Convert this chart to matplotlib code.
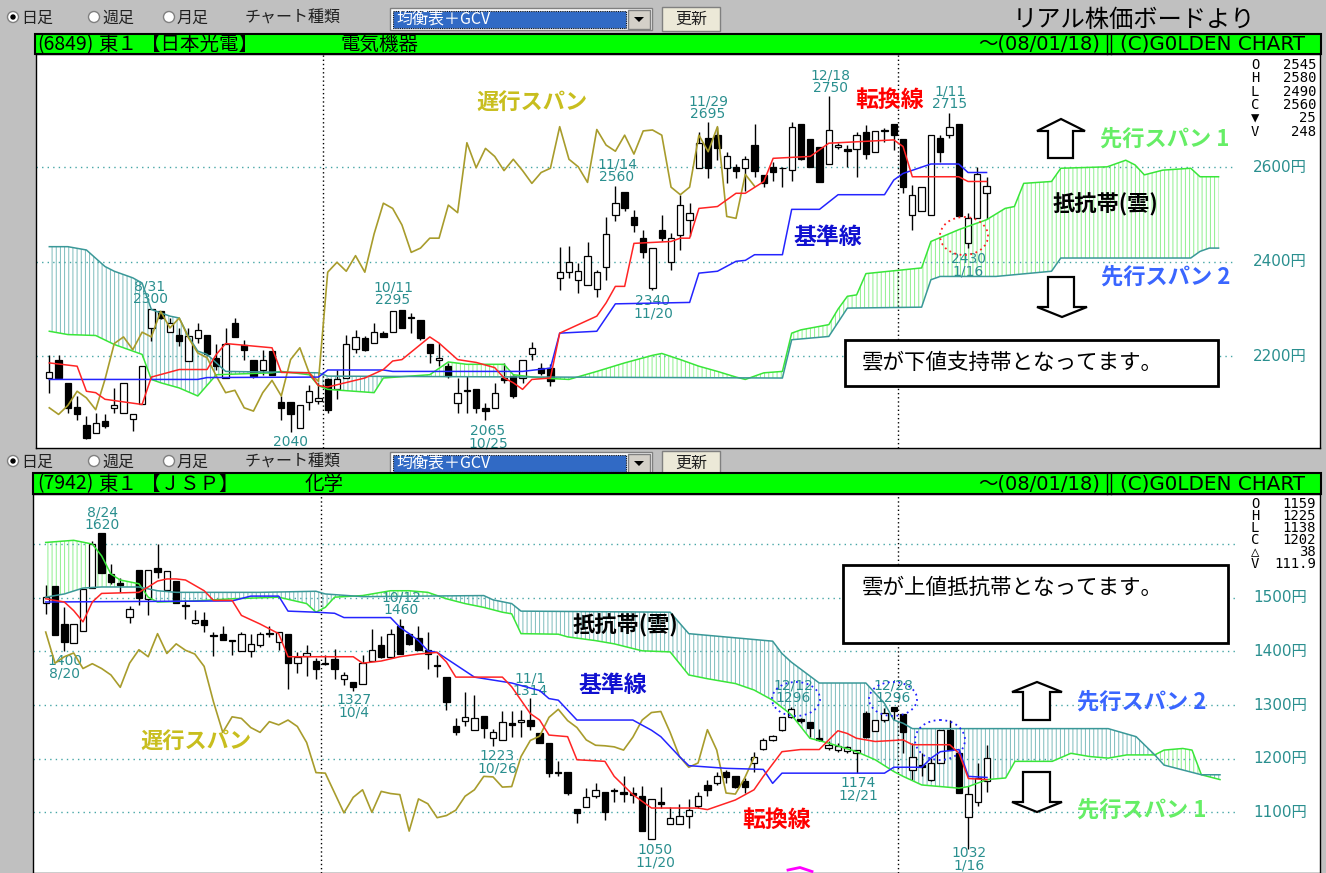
import matplotlib
matplotlib.use("Agg")
import matplotlib.pyplot as plt
import numpy as np
from matplotlib.patches import Rectangle, Polygon, Ellipse
from matplotlib.transforms import Affine2D, blended_transform_factory

plt.rcParams['font.family'] = ['Noto Sans CJK JP', 'DejaVu Sans']
plt.rcParams['hatch.linewidth'] = 0.7

# ---------------- top panel: (6849) 日本光電 ----------------
top_open = [2154, 2192, 2144, 2092, 2054, 2038, 2063, 2091, 2079, 2068, 2100, 2260, 2295, 2251, 2246, 2190, 2239, 2246, 2197, 2154,
            2270, 2223, 2192, 2172, 2212, 2103, 2103, 2049, 2103, 2105, 2151, 2130, 2154, 2216, 2239, 2228, 2249, 2251, 2297, 2284,
            2276, 2225, 2192, 2179, 2102, 2126, 2130, 2091, 2091, 2154, 2158, 2154, 2204, 2175, 2175, 2366, 2378, 2362, 2350, 2342,
            2389, 2499, 2547, 2494, 2450, 2344, 2468, 2399, 2457, 2489, 2598, 2663, 2668, 2598, 2601, 2598, 2647, 2584, 2600, 2599,
            2594, 2692, 2659, 2642, 2607, 2644, 2638, 2638, 2675, 2633, 2677, 2692, 2659, 2499, 2508, 2499, 2663, 2668, 2692, 2440,
            2492, 2545]
top_high = [2202, 2202, 2144, 2116, 2073, 2080, 2077, 2133, 2144, 2078, 2180, 2300, 2295, 2281, 2260, 2260, 2271, 2246, 2225, 2260,
            2281, 2235, 2192, 2214, 2212, 2116, 2103, 2096, 2140, 2144, 2154, 2172, 2246, 2256, 2242, 2271, 2253, 2295, 2297, 2292,
            2276, 2225, 2228, 2186, 2154, 2158, 2130, 2102, 2144, 2186, 2161, 2193, 2230, 2186, 2183, 2431, 2434, 2397, 2441, 2383,
            2494, 2560, 2547, 2510, 2468, 2429, 2499, 2462, 2541, 2524, 2675, 2695, 2686, 2633, 2608, 2624, 2692, 2584, 2612, 2600,
            2696, 2692, 2659, 2642, 2750, 2651, 2647, 2675, 2689, 2677, 2684, 2692, 2659, 2563, 2558, 2668, 2668, 2715, 2692, 2503,
            2601, 2580]
top_low = [2123, 2151, 2080, 2066, 2025, 2038, 2049, 2080, 2079, 2042, 2100, 2232, 2278, 2251, 2221, 2190, 2228, 2200, 2172, 2154,
           2241, 2193, 2154, 2161, 2161, 2066, 2040, 2049, 2087, 2098, 2080, 2109, 2154, 2207, 2211, 2228, 2241, 2251, 2260, 2249,
           2235, 2186, 2179, 2154, 2080, 2080, 2080, 2065, 2091, 2144, 2112, 2144, 2193, 2161, 2137, 2340, 2366, 2335, 2350, 2325,
           2361, 2487, 2508, 2464, 2408, 2340, 2445, 2383, 2425, 2454, 2598, 2577, 2615, 2566, 2577, 2549, 2579, 2559, 2570, 2559,
           2572, 2615, 2600, 2568, 2607, 2638, 2600, 2579, 2617, 2633, 2654, 2637, 2546, 2468, 2508, 2499, 2612, 2663, 2496, 2430,
           2492, 2490]
top_close = [2166, 2154, 2091, 2077, 2028, 2058, 2052, 2096, 2144, 2078, 2180, 2300, 2281, 2271, 2232, 2242, 2255, 2204, 2179, 2227,
             2241, 2213, 2158, 2192, 2161, 2091, 2077, 2096, 2126, 2112, 2087, 2151, 2227, 2241, 2214, 2251, 2241, 2295, 2260, 2281,
             2239, 2207, 2197, 2158, 2123, 2128, 2091, 2084, 2123, 2149, 2116, 2193, 2218, 2165, 2147, 2378, 2399, 2380, 2413, 2378,
             2459, 2524, 2513, 2478, 2420, 2429, 2450, 2450, 2520, 2504, 2652, 2599, 2640, 2623, 2593, 2617, 2593, 2566, 2589, 2598,
             2686, 2617, 2601, 2568, 2680, 2647, 2634, 2668, 2628, 2677, 2679, 2668, 2558, 2542, 2558, 2668, 2633, 2686, 2496, 2492,
             2585, 2560]

top_tenkan_x = [0, 3, 4, 5, 6, 10, 11, 14, 17, 18, 19, 24, 25, 28, 29, 30, 34, 36, 37, 38, 41, 42, 44, 46, 48, 49, 50, 51, 52, 54,
                55, 57, 59, 60, 61, 62, 63, 67, 68, 69, 70, 72, 74, 75, 77, 78, 82, 84, 91, 92, 93, 98, 99, 101]
top_tenkan_y = [2186, 2179, 2126, 2123, 2109, 2098, 2156, 2172, 2172, 2204, 2227, 2218, 2166, 2165, 2138, 2135, 2154, 2172, 2190, 2193,
                2241, 2228, 2193, 2187, 2176, 2154, 2144, 2130, 2151, 2154, 2249, 2267, 2285, 2313, 2348, 2348, 2439, 2443, 2450, 2450,
                2513, 2517, 2545, 2545, 2570, 2619, 2623, 2651, 2658, 2644, 2580, 2580, 2570, 2570]
top_kijun_x = [0, 16, 17, 29, 30, 36, 37, 51, 54, 55, 59, 61, 69, 70, 72, 74, 75, 76, 79, 80, 83, 85, 90, 91, 92, 95, 98, 99, 101]
top_kijun_y = [2151, 2151, 2155, 2156, 2171, 2171, 2168, 2168, 2175, 2249, 2253, 2311, 2314, 2376, 2380, 2401, 2403, 2415, 2415, 2511,
               2511, 2542, 2542, 2573, 2587, 2607, 2607, 2589, 2589]
top_span_a_x = [0, 2, 5, 7, 9, 10, 11, 12, 14, 16, 18, 24, 25, 28, 29, 30, 35, 36, 41, 43, 45, 49, 50, 53, 56, 59, 62, 65, 66, 68,
                70, 72, 74, 75, 77, 79, 80, 81, 84, 85, 86, 87, 88, 92, 94, 95, 98, 101, 103, 104, 105, 108, 109, 114, 116, 117, 118,
                120, 123, 124, 126]
top_span_a_y = [2253, 2246, 2244, 2225, 2211, 2204, 2151, 2144, 2133, 2116, 2161, 2165, 2168, 2161, 2138, 2130, 2123, 2154, 2161, 2188,
                2183, 2183, 2161, 2154, 2151, 2168, 2186, 2202, 2206, 2193, 2179, 2168, 2156, 2151, 2165, 2168, 2249, 2256, 2267, 2300,
                2327, 2330, 2375, 2383, 2387, 2443, 2468, 2489, 2513, 2517, 2566, 2570, 2598, 2601, 2615, 2605, 2584, 2594, 2598, 2580,
                2580]
top_span_b_x = [0, 2, 4, 6, 7, 9, 10, 11, 13, 14, 15, 16, 17, 19, 29, 30, 79, 80, 84, 86, 94, 95, 96, 102, 108, 109, 123, 124, 125,
                126]
top_span_b_y = [2432, 2432, 2425, 2390, 2380, 2366, 2355, 2299, 2285, 2281, 2242, 2211, 2204, 2168, 2165, 2158, 2154, 2235, 2242, 2302,
                2304, 2362, 2369, 2369, 2380, 2408, 2408, 2422, 2429, 2429]
top_grid = [2600, 2400, 2200]

# ---------------- bottom panel: (7942) ＪＳＰ ----------------
bot_open = [1490, 1521, 1451, 1416, 1438, 1518, 1620, 1544, 1528, 1464, 1552, 1498, 1555, 1515, 1531, 1486, 1453, 1459, 1430, 1433,
            1421, 1400, 1400, 1411, 1434, 1417, 1432, 1378, 1391, 1382, 1379, 1385, 1349, 1343, 1339, 1382, 1411, 1390, 1448, 1432,
            1424, 1402, 1374, 1352, 1260, 1271, 1253, 1279, 1238, 1235, 1266, 1268, 1272, 1247, 1230, 1176, 1176, 1106, 1110, 1130,
            1137, 1142, 1137, 1136, 1131, 1050, 1119, 1079, 1079, 1094, 1112, 1151, 1154, 1176, 1167, 1158, 1192, 1218, 1234, 1253,
            1278, 1274, 1269, 1238, 1219, 1217, 1214, 1210, 1286, 1252, 1272, 1296, 1283, 1179, 1188, 1161, 1192, 1254, 1210, 1091,
            1120, 1159]
bot_high = [1523, 1521, 1482, 1451, 1516, 1606, 1620, 1563, 1537, 1484, 1552, 1552, 1600, 1550, 1531, 1495, 1477, 1473, 1436, 1448,
            1421, 1436, 1433, 1436, 1448, 1436, 1433, 1399, 1411, 1387, 1393, 1405, 1362, 1343, 1393, 1442, 1428, 1442, 1460, 1432,
            1447, 1436, 1393, 1352, 1275, 1325, 1318, 1279, 1255, 1288, 1288, 1291, 1314, 1247, 1230, 1195, 1176, 1106, 1145, 1154,
            1137, 1145, 1167, 1148, 1149, 1125, 1148, 1110, 1116, 1124, 1137, 1161, 1176, 1179, 1167, 1164, 1213, 1238, 1244, 1278,
            1296, 1275, 1269, 1256, 1232, 1230, 1224, 1216, 1288, 1272, 1294, 1296, 1283, 1229, 1210, 1201, 1254, 1272, 1216, 1149,
            1192, 1225]
bot_low = [1469, 1430, 1400, 1416, 1438, 1518, 1546, 1526, 1510, 1453, 1487, 1467, 1537, 1515, 1490, 1461, 1451, 1436, 1391, 1422,
           1393, 1400, 1390, 1408, 1427, 1403, 1329, 1359, 1354, 1349, 1374, 1349, 1337, 1327, 1339, 1382, 1387, 1390, 1396, 1411,
           1402, 1368, 1352, 1291, 1244, 1261, 1253, 1239, 1223, 1235, 1240, 1240, 1253, 1229, 1166, 1167, 1133, 1081, 1110, 1127,
           1086, 1120, 1120, 1117, 1065, 1050, 1108, 1079, 1079, 1071, 1108, 1130, 1151, 1154, 1145, 1136, 1176, 1216, 1232, 1252,
           1275, 1266, 1241, 1232, 1216, 1213, 1210, 1174, 1238, 1252, 1269, 1272, 1210, 1161, 1167, 1158, 1192, 1216, 1136, 1032,
           1111, 1138]
bot_close = [1502, 1430, 1417, 1451, 1516, 1601, 1546, 1529, 1524, 1479, 1500, 1552, 1547, 1549, 1490, 1484, 1459, 1450, 1428, 1422,
             1419, 1433, 1414, 1433, 1432, 1436, 1378, 1390, 1397, 1368, 1377, 1368, 1356, 1333, 1378, 1403, 1390, 1433, 1396, 1414,
             1402, 1395, 1372, 1306, 1249, 1278, 1275, 1258, 1249, 1269, 1263, 1272, 1260, 1230, 1174, 1173, 1136, 1099, 1128, 1142,
             1100, 1139, 1135, 1133, 1065, 1125, 1116, 1090, 1094, 1104, 1130, 1142, 1167, 1166, 1147, 1148, 1204, 1234, 1242, 1277,
             1292, 1271, 1258, 1235, 1225, 1224, 1222, 1216, 1240, 1272, 1286, 1288, 1249, 1204, 1184, 1192, 1254, 1216, 1136, 1134,
             1164, 1202]

bot_tenkan_x = [0, 2, 3, 4, 5, 6, 10, 11, 12, 13, 14, 15, 16, 17, 18, 20, 21, 23, 25, 26, 33, 34, 36, 38, 40, 42, 43, 44, 49, 50,
                52, 53, 54, 56, 57, 60, 61, 63, 65, 70, 71, 74, 76, 77, 79, 81, 83, 85, 86, 87, 89, 92, 93, 97, 98, 99, 101]
bot_tenkan_y = [1498, 1492, 1476, 1455, 1492, 1508, 1510, 1520, 1531, 1535, 1535, 1533, 1523, 1513, 1495, 1495, 1467, 1451, 1433, 1390,
                1390, 1378, 1382, 1390, 1395, 1398, 1380, 1352, 1352, 1334, 1284, 1272, 1244, 1241, 1198, 1195, 1167, 1133, 1108, 1108,
                1105, 1123, 1142, 1167, 1213, 1217, 1217, 1252, 1247, 1238, 1232, 1235, 1226, 1226, 1210, 1163, 1161]
bot_kijun_x = [0, 20, 22, 25, 26, 29, 31, 32, 37, 38, 39, 40, 41, 42, 46, 50, 53, 54, 55, 57, 63, 65, 66, 68, 69, 73, 77, 78, 79, 90,
               91, 94, 95, 96, 98, 99, 101]
bot_kijun_y = [1492, 1494, 1503, 1503, 1475, 1473, 1471, 1463, 1463, 1445, 1433, 1420, 1401, 1398, 1352, 1341, 1327, 1312, 1309, 1272,
               1272, 1253, 1241, 1204, 1187, 1182, 1180, 1154, 1173, 1173, 1184, 1184, 1201, 1213, 1217, 1167, 1165]
bot_span_a_x = [0, 3, 5, 6, 7, 8, 10, 11, 12, 16, 20, 25, 28, 29, 30, 31, 34, 37, 39, 41, 43, 45, 47, 49, 50, 51, 55, 56, 59, 61,
                64, 67, 69, 71, 74, 76, 78, 80, 82, 84, 87, 89, 91, 92, 94, 98, 99, 101, 103, 104, 108, 110, 112, 114, 116, 119, 120,
                122, 123, 124, 126]
bot_span_a_y = [1603, 1607, 1600, 1578, 1544, 1533, 1526, 1501, 1492, 1494, 1498, 1501, 1489, 1473, 1482, 1501, 1504, 1513, 1513, 1510,
                1498, 1489, 1482, 1473, 1470, 1433, 1432, 1427, 1420, 1414, 1401, 1399, 1356, 1349, 1340, 1328, 1309, 1282, 1238, 1229,
                1213, 1198, 1176, 1167, 1151, 1145, 1148, 1161, 1164, 1195, 1195, 1210, 1204, 1201, 1207, 1207, 1216, 1219, 1216, 1170,
                1161]
bot_span_b_x = [0, 2, 4, 6, 10, 12, 14, 23, 29, 30, 34, 47, 48, 50, 51, 67, 69, 78, 79, 80, 83, 88, 90, 91, 92, 93, 114, 117, 119,
                120, 122, 124, 126]
bot_span_b_y = [1501, 1507, 1518, 1520, 1520, 1513, 1510, 1510, 1512, 1507, 1502, 1504, 1496, 1489, 1475, 1473, 1433, 1419, 1396, 1380,
                1341, 1341, 1303, 1272, 1266, 1256, 1256, 1241, 1207, 1188, 1179, 1170, 1170]
bot_grid = [1600, 1500, 1400, 1300, 1200, 1100]
bot_price_labels = [1500, 1400, 1300, 1200, 1100]

month_breaks = [29.5, 91.45]
chikou_shift = 25

W, H = 1326, 873
fig = plt.figure(figsize=(W / 100, H / 100), dpi=100)
fig.patch.set_facecolor('#c0c0c0')
# pixel coordinates, y measured from the top of the picture
pix = Affine2D().scale(1 / W, -1 / H).translate(0, 1) + fig.transFigure

TEAL_TXT = '#2a8f8f'
GRID = '#46a6a6'


def chart_axes(l, t, r, b):
    ax = fig.add_axes([l / W, 1 - b / H, (r - l) / W, (b - t) / H])
    ax.set_facecolor('white')
    ax.set_xticks([])
    ax.set_yticks([])
    for s in ax.spines.values():
        s.set_color('black')
        s.set_linewidth(1)
    return ax


def draw_panel(ax, o, h, l, c, tk, kj, sa, sb, grid, labels, xlim, ylim, grid_end):
    o, h, l, c = map(np.asarray, (o, h, l, c))
    ax.set_xlim(*xlim)
    ax.set_ylim(*ylim)
    idx = np.arange(len(o))

    # cloud (先行スパン1 / 2) with vertical hatching
    xs = np.linspace(0, max(sa[0][-1], sb[0][-1]), 3000)
    a = np.interp(xs, sa[0], sa[1])
    b = np.interp(xs, sb[0], sb[1])
    ax.fill_between(xs, a, b, where=a >= b, interpolate=True, facecolor='none',
                    edgecolor='#8ef08e', hatch='||||', linewidth=0, zorder=1)
    ax.fill_between(xs, a, b, where=a < b, interpolate=True, facecolor='none',
                    edgecolor='#7cbcbc', hatch='||||', linewidth=0, zorder=1)

    ax.hlines(grid, xlim[0], grid_end, colors=GRID, linestyles=(0, (1, 3)), linewidth=1, zorder=1.5)
    for m in month_breaks:
        ax.axvline(m, color='black', linestyle=(0, (1, 2)), linewidth=1, zorder=1.5)

    # candles
    up = c >= o
    ax.vlines(idx, l, h, color='black', linewidth=1, zorder=3)
    ax.bar(idx, np.abs(c - o), bottom=np.minimum(o, c), width=0.68,
           color=np.where(up, 'white', 'black'), edgecolor='black', linewidth=0.9, zorder=3.5)

    # ichimoku lines
    ax.plot(sa[0], sa[1], color='#39e639', linewidth=1.1, zorder=4)
    ax.plot(sb[0], sb[1], color='#3a9898', linewidth=1.1, zorder=4)
    ax.plot(idx[chikou_shift:] - chikou_shift, c[chikou_shift:], color='#a89c2c', linewidth=1.2, zorder=4)
    ax.plot(kj[0], kj[1], color='#2424ff', linewidth=1.1, zorder=4.2)
    ax.plot(tk[0], tk[1], color='#ff2424', linewidth=1.1, zorder=4.3)

    tr = blended_transform_factory(ax.transAxes, ax.transData)
    lx = (1253 - ax.get_position().x0 * W) / (ax.get_position().width * W)
    for p in labels:
        ax.text(lx, p, f'{p}円', transform=tr, color=TEAL_TXT, fontsize=11, va='center', ha='left',
                family=['DejaVu Sans', 'Noto Sans CJK JP'], zorder=6)


ax1 = chart_axes(36, 54, 1320, 448)
draw_panel(ax1, top_open, top_high, top_low, top_close,
           (top_tenkan_x, top_tenkan_y), (top_kijun_x, top_kijun_y),
           (top_span_a_x, top_span_a_y), (top_span_b_x, top_span_b_y),
           top_grid, top_grid, (-1.433, 136.93), (2005.9, 2839.8), 127.8)

ax2 = chart_axes(33, 494, 1320, 873)
draw_panel(ax2, bot_open, bot_high, bot_low, bot_close,
           (bot_tenkan_x, bot_tenkan_y), (bot_kijun_x, bot_kijun_y),
           (bot_span_a_x, bot_span_a_y), (bot_span_b_x, bot_span_b_y),
           bot_grid, bot_price_labels, (-1.363, 136.73), (986.9, 1693.3), 127.6)

# ---------------- window chrome ----------------
ov = fig.add_axes([0, 0, 1, 1])
ov.set_xlim(0, W)
ov.set_ylim(H, 0)
ov.axis('off')
ov.patch.set_alpha(0)
ov.set_zorder(10)


def toolbar(dy):
    for cx, label, sel in [(13, '日足', True), (94, '週足', False), (169, '月足', False)]:
        ov.add_patch(Ellipse((cx, 17 + dy), 11, 11, facecolor='white', edgecolor='#808080', linewidth=1))
        if sel:
            ov.add_patch(Ellipse((cx, 17 + dy), 4, 4, facecolor='black', edgecolor='black'))
        ov.text(cx + 8, 18 + dy, label, fontsize=11.5, va='center', ha='left', color='#202020')
    ov.text(245, 18 + dy, 'チャート種類', fontsize=11.5, va='center', ha='left', color='#202020')
    ov.add_patch(Rectangle((390, 8 + dy), 262, 22, facecolor='white', edgecolor='#808080', linewidth=1))
    ov.add_patch(Rectangle((393, 11 + dy), 233, 17, facecolor='#316ac5', edgecolor='#101010',
                           linewidth=0.8, linestyle=(0, (1, 1))))
    ov.text(396, 19.5 + dy, '均衡表＋GCV', fontsize=11.5, va='center', ha='left', color='white')
    ov.add_patch(Rectangle((628, 10 + dy), 22, 19, facecolor='#d4d0c8', edgecolor='#808080', linewidth=1))
    ov.add_patch(Polygon([(634, 17 + dy), (644, 17 + dy), (639, 22 + dy)], closed=True, facecolor='black'))
    ov.add_patch(Rectangle((662, 7 + dy), 58, 24, facecolor='#ece9d8', edgecolor='#808080', linewidth=1))
    ov.text(691, 19 + dy, '更新', fontsize=11.5, va='center', ha='center', color='#202020')


def header(x0, top, bottom, code, name, xs):
    ov.add_patch(Rectangle((x0, top), 1321 - x0, bottom - top, facecolor='#00ff00', edgecolor='black', linewidth=1.5))
    yc = (top + bottom) / 2 + 0.5
    for x, s in zip(xs, [code, '東１', name[0], name[1]]):
        ov.text(x, yc, s, fontsize=14, va='center', ha='left', color='black')
    ov.text(1100, yc, '～(08/01/18)', fontsize=14, va='center', ha='right', color='black',
            family=['DejaVu Sans', 'Noto Sans CJK JP'])
    ov.plot([1107, 1107], [top, bottom], color='black', linewidth=1)
    ov.plot([1111, 1111], [top, bottom], color='black', linewidth=1)
    ov.text(1120, yc, '(C)G0LDEN CHART', fontsize=14.3, va='center', ha='left', color='black',
            family=['DejaVu Sans'])


toolbar(0)
toolbar(444)
header(35, 34, 54, '(6849)', ('【日本光電】', '電気機器'), [37, 98, 141, 340])
header(33, 473, 494, '(7942)', ('【ＪＳＰ】', '化学'), [37, 98, 141, 305])
ov.text(1134, 20, 'リアル株価ボードより', fontsize=17.5, va='center', ha='center', color='black')


def ohlc(y0, step, rows):
    for k, (key, val) in enumerate(rows):
        ov.text(1251, y0 + k * step, key, fontsize=10, va='center', ha='left', family=['DejaVu Sans Mono'])
        ov.text(1316, y0 + k * step, val, fontsize=10, va='center', ha='right', family=['DejaVu Sans Mono'])


ohlc(65, 13.3, [('O', '2545'), ('H', '2580'), ('L', '2490'), ('C', '2560'), ('▼', '25'), ('V', '248')])
ohlc(504, 12, [('O', '1159'), ('H', '1225'), ('L', '1138'), ('C', '1202'), ('△', '38'), ('V', '111.9')])


# ---------------- annotations ----------------
def date_label(ax, x, y, text):
    ax.text(x, y, text, transform=pix, fontsize=10, va='center', ha='center', color=TEAL_TXT,
            family=['DejaVu Sans'], linespacing=0.82, zorder=2)


for x, y, s in [(150, 293, '8/31\n2300'), (393, 294, '10/11\n2295'), (290, 442, '2040'),
                (488, 437, '2065\n10/25'), (617, 171, '11/14\n2560'), (653, 307, '2340\n11/20'),
                (708, 108, '11/29\n2695'), (830, 82, '12/18\n2750'), (950, 98, '1/11\n2715'),
                (968, 265, '2430\n1/16')]:
    date_label(ax1, x, y, s)

for x, y, s in [(102, 519, '8/24\n1620'), (65, 667, '1400\n8/20'), (354, 706, '1327\n10/4'),
                (401, 604, '10/12\n1460'), (530, 685, '11/1\n1314'), (497, 762, '1223\n10/26'),
                (655, 856, '1050\n11/20'), (793, 692, '12/12\n1296'), (893, 692, '12/28\n1296'),
                (858, 789, '1174\n12/21'), (969, 859, '1032\n1/16')]:
    date_label(ax2, x, y, s)

BOLD = dict(fontweight='bold', va='center', ha='left')
# top panel
ov.text(476, 103, '遅行スパン', fontsize=16, color='#c8be1e', **BOLD)
ov.text(855, 100, '転換線', fontsize=16.5, color='#ff0000', **BOLD)
ov.text(793, 238, '基準線', fontsize=16.5, color='#1010d0', **BOLD)
ov.text(1100, 139, '先行スパン 1', fontsize=16, color='#66ee66', **BOLD)
ov.text(1101, 277, '先行スパン 2', fontsize=16, color='#3a66ff', **BOLD)
ov.text(1053, 205, '抵抗帯(雲)', fontsize=16, color='black', **BOLD)
# bottom panel
ov.text(140, 742, '遅行スパン', fontsize=16, color='#c8be1e', **BOLD)
ov.text(578, 685, '基準線', fontsize=16.5, color='#1010d0', **BOLD)
ov.text(573, 626, '抵抗帯(雲)', fontsize=16, color='black', **BOLD)
ov.text(742, 820, '転換線', fontsize=16.5, color='#ff0000', **BOLD)
ov.text(1077, 702, '先行スパン 2', fontsize=16, color='#3a66ff', **BOLD)
ov.text(1077, 810, '先行スパン 1', fontsize=16, color='#66ee66', **BOLD)


def up_arrow(x0, x1, top, base, bottom, s0, s1):
    cx = (x0 + x1) / 2
    ov.add_patch(Polygon([(cx, top), (x1, base), (s1, base), (s1, bottom), (s0, bottom), (s0, base), (x0, base)],
                         closed=True, facecolor='white', edgecolor='black', linewidth=1.6))


def down_arrow(x0, x1, top, base, tip, s0, s1):
    cx = (x0 + x1) / 2
    ov.add_patch(Polygon([(s0, top), (s1, top), (s1, base), (x1, base), (cx, tip), (x0, base), (s0, base)],
                         closed=True, facecolor='white', edgecolor='black', linewidth=1.6))


up_arrow(1037, 1085, 119, 131, 158, 1048, 1073)
down_arrow(1037, 1087, 277, 307, 317, 1048, 1074)
up_arrow(1012, 1062, 682, 692, 720, 1023, 1050)
down_arrow(1012, 1062, 772, 802, 812, 1023, 1050)

ov.add_patch(Rectangle((845, 340), 373, 46, facecolor='white', edgecolor='black', linewidth=2))
ov.text(862, 363, '雲が下値支持帯となってます。', fontsize=15.5, va='center', ha='left', color='black')
ov.add_patch(Rectangle((843, 565), 385, 78, facecolor='white', edgecolor='black', linewidth=2))
ov.text(862, 588, '雲が上値抵抗帯となってます。', fontsize=15.5, va='center', ha='left', color='black')

ov.add_patch(Ellipse((964, 236), 48, 38, facecolor='none', edgecolor='#ff2020', linewidth=1.3, linestyle=(0, (1, 2))))
for cx, cy, w, h in [(796, 699, 48, 34), (893, 699, 48, 34), (940, 740, 50, 40)]:
    ov.add_patch(Ellipse((cx, cy), w, h, facecolor='none', edgecolor='#2020ff', linewidth=1.3, linestyle=(0, (1, 2))))
ov.plot([788, 800, 812], [870, 867.5, 871.5], color='#ff00ff', linewidth=2)

fig.savefig('out.png', dpi=100, facecolor=fig.get_facecolor())
